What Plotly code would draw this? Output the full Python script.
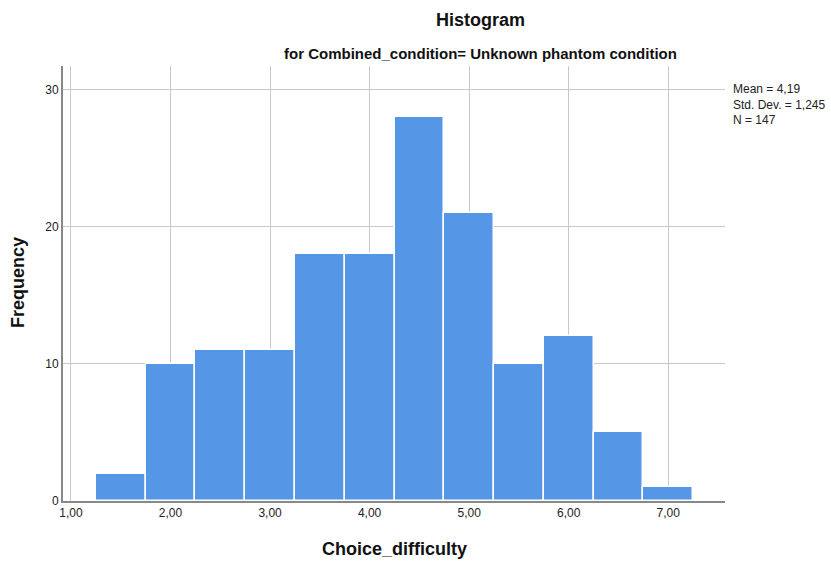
import plotly.graph_objects as go

bin_centers = [1.5, 2.0, 2.5, 3.0, 3.5, 4.0, 4.5, 5.0, 5.5, 6.0, 6.5, 7.0]
frequencies = [2, 10, 11, 11, 18, 18, 28, 21, 10, 12, 5, 1]
x_tick_vals = [1, 2, 3, 4, 5, 6, 7]
x_tick_text = ["1,00", "2,00", "3,00", "4,00", "5,00", "6,00", "7,00"]
y_tick_vals = [0, 10, 20, 30]
stats_lines = ["Mean = 4,19", "Std. Dev. = 1,245", "N = 147"]

L, R, T, B = 63, 725, 66, 501
PW, PH = R - L, B - T

def px(xp):
    return (xp - L) / PW

def py(yp):
    return (B - yp) / PH

fig = go.Figure()
fig.add_trace(go.Bar(
    x=bin_centers, y=frequencies, width=0.5,
    marker=dict(color="#5596E6", line=dict(color="white", width=1.5)),
    showlegend=False, hoverinfo="x+y",
))

fig.update_layout(
    width=831, height=561,
    margin=dict(l=L, r=831 - R, t=T, b=561 - B, autoexpand=False),
    plot_bgcolor="white", paper_bgcolor="white",
    font=dict(family="Liberation Sans, Arial, sans-serif", color="#222"),
    bargap=0,
)
fig.update_xaxes(
    range=[0.92, 7.57], tickvals=x_tick_vals, ticktext=x_tick_text,
    showgrid=True, gridcolor="#c8c8c8", gridwidth=1,
    showline=True, linecolor="#888", linewidth=2,
    ticks="", tickfont=dict(size=12, color="#222"),
    automargin=False, zeroline=False,
)
fig.update_yaxes(
    range=[0, 31.7], tickvals=y_tick_vals,
    showgrid=True, gridcolor="#c8c8c8", gridwidth=1,
    showline=True, linecolor="#888", linewidth=2,
    ticks="", tickfont=dict(size=12, color="#222"),
    automargin=False, zeroline=False,
)

fig.add_annotation(text="<b>Choice_difficulty</b>", xref="paper", yref="paper",
                   x=px(394), y=py(549), xanchor="center", yanchor="middle",
                   showarrow=False, font=dict(size=18, color="#111"))
fig.add_annotation(text="<b>Frequency</b>", xref="paper", yref="paper",
                   x=px(18), y=py(283), xanchor="center", yanchor="middle", textangle=-90,
                   showarrow=False, font=dict(size=18, color="#111"))
fig.add_annotation(text="<b>Histogram</b>", xref="paper", yref="paper",
                   x=px(480), y=py(20), xanchor="center", yanchor="middle",
                   showarrow=False, font=dict(size=18, color="#111"))
fig.add_annotation(text="<b>for Combined_condition= Unknown phantom condition</b>", xref="paper", yref="paper",
                   x=px(480), y=py(53), xanchor="center", yanchor="middle",
                   showarrow=False, font=dict(size=15, color="#111"))
fig.add_annotation(text="<br>".join(stats_lines), xref="paper", yref="paper",
                   x=px(731), y=py(80), xanchor="left", yanchor="top",
                   align="left", showarrow=False, font=dict(size=12, color="#222"))

fig.write_html("out.html", config={"displayModeBar": False},
               post_script="document.body.style.margin='0';")
